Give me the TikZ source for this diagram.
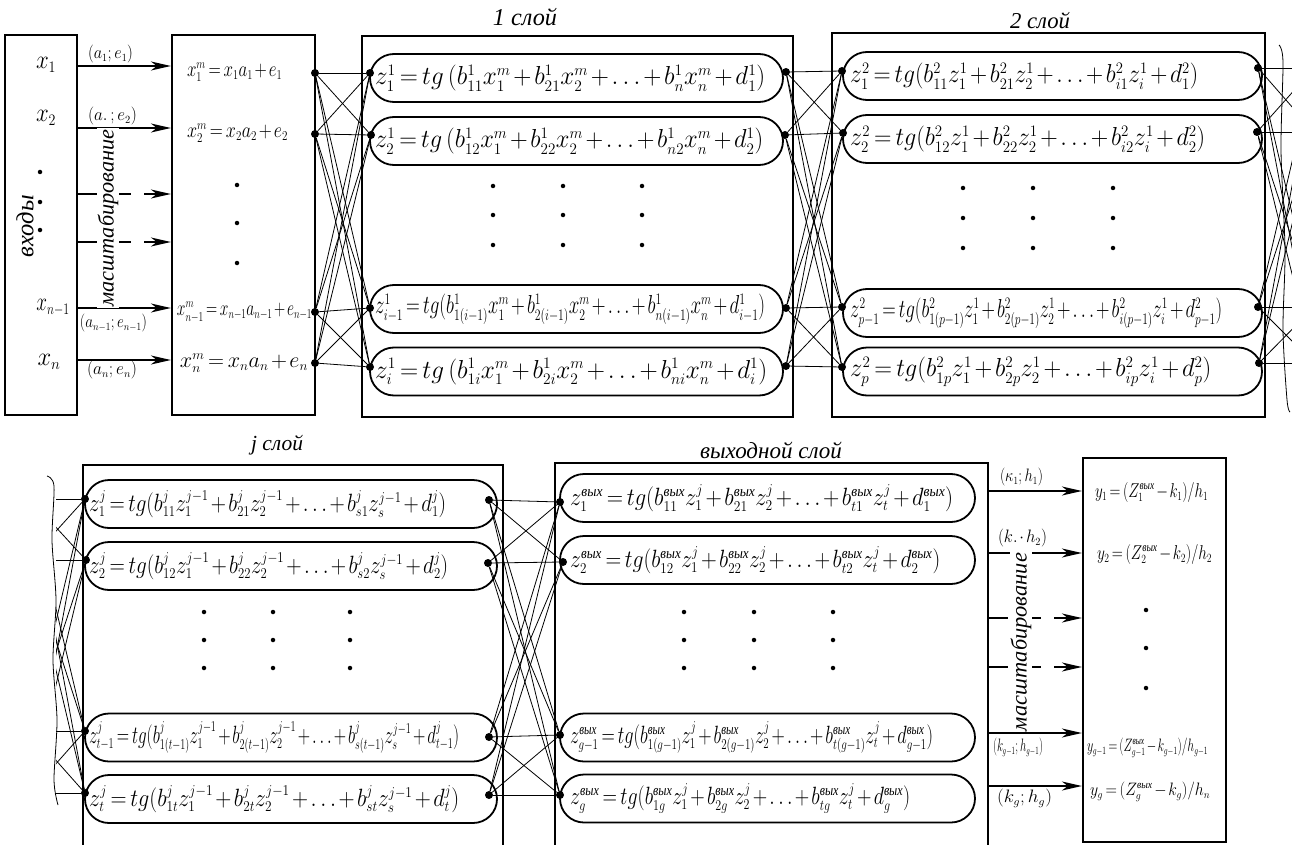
\RequirePackage{fix-cm}
\documentclass[tikz,border=0pt]{standalone}
\usepackage{amsmath}
\usepackage{graphicx}
\usepackage{fontspec}
\setmainfont{Liberation Serif}
\usetikzlibrary{arrows.meta}
\DeclareMathSizes{26}{26}{16}{12}
\DeclareMathSizes{25}{25}{15}{11}
\DeclareMathSizes{24}{24}{15}{11}
\DeclareMathSizes{22}{22}{13.5}{10}
\DeclareMathSizes{20}{20}{12.5}{9}
\DeclareMathSizes{18}{18}{11}{8}
\newcommand{\vyh}{\text{\itshape вых}}
% #1 font size, #2 target width, #3 math
\newcommand{\fp}[3]{\resizebox{#2pt}{\height}{\fontsize{#1}{#1}\selectfont$\medmuskip=2mu\thickmuskip=3mu #3$}}
\newcommand{\ft}[2]{\resizebox{#1pt}{!}{\itshape #2}}
\begin{document}
\begin{tikzpicture}[x=1pt,y=-1pt,
 box/.style={draw,line width=2.2pt},
 pill/.style={draw,line width=1.8pt,rounded corners=24pt,minimum height=48pt,inner sep=0pt},
 dot/.style={circle,fill,inner sep=0pt,minimum size=8pt},
 sdot/.style={circle,fill,inner sep=0pt,minimum size=4.5pt},
 link/.style={line width=0.8pt},
 arr/.style={line width=1.8pt,-{Stealth[length=20pt,width=9pt,inset=6pt]}},
 darr/.style={arr,dash pattern=on 20pt off 13pt},
 lbl/.style={inner sep=0pt},
 vtxt/.style={rotate=90,fill=white,inner sep=1pt},
 ttl/.style={inner sep=0pt}
]
\useasboundingbox (0,0) rectangle (1292,845);

% ---------- boxes ----------
\node[box,minimum width=72pt,minimum height=380pt] (inbox) at (41,225) {};
\node[box,minimum width=143pt,minimum height=380pt] (scbox) at (243.5,225) {};
\node[box,minimum width=431pt,minimum height=381pt] (l1box) at (577.5,226.5) {};
\node[box,minimum width=433pt,minimum height=384pt] (l2box) at (1048.5,225) {};
\node[box,minimum width=143pt,minimum height=384pt] (ybox) at (1154.5,650) {};
\draw[box] (83,850) -- (83,465) -- (503,465) -- (503,850);
\draw[box] (555,850) -- (555,463) -- (988,463) -- (988,850);
\coordinate (obR) at (988,0);

% ---------- titles ----------
\node[ttl] (t1) at (525,17) {\ft{64}{1 слой}};
\node[ttl] (t2) at (1040,21) {\ft{60}{2 слой}};
\node[ttl] (tj) at (277,445) {\ft{52}{j слой}};
\node[ttl] (to) at (771,450) {\ft{142}{выходной слой}};

% ---------- inputs ----------
\node[lbl] (x1) at (46,65) {\fp{26}{20}{x_1}};
\node[lbl] (x2) at (46,118) {\fp{26}{20}{x_2}};
\node[lbl] (xn1) at (53,308) {\fp{26}{33}{x_{n-1}}};
\node[lbl] (xn) at (49,362) {\fp{26}{23}{x_n}};
\node[sdot] (id1) at (40,172) {};
\node[sdot] (id2) at (40,202) {};
\node[sdot] (id3) at (40,230) {};
\node[rotate=90,lbl] (vx) at (25,226) {\ft{62}{входы}};

% ---------- input arrows ----------
\foreach \yy/\st in {66/arr,128/arr,194/darr,242/darr,308/arr,360/arr}{
  \coordinate (tmp) at (0,\yy);
  \draw[\st] (inbox.east |- tmp) -- (scbox.west |- tmp);
}
\node[lbl] (la1) at (110.5,54) {\fp{18}{45}{(a_1;e_1)}};
\node[lbl] (la2) at (112.5,116) {\fp{18}{49}{(a.\,;e_2)}};
\node[lbl] (la3) at (113.5,323) {\fp{18}{67}{(a_{n-1};e_{n-1})}};
\node[lbl] (la4) at (112,370) {\fp{18}{50}{(a_n;e_n)}};
\node[vtxt] (msc1) at (108,218) {\ft{177}{масштабирование}};

% ---------- scaling box ----------
\node[lbl] (s1t) at (234.5,72) {\fp{22}{95}{x_1^m = x_1 a_1 + e_1}};
\node[lbl] (s2t) at (237.5,133) {\fp{22}{101}{x_2^m = x_2 a_2 + e_2}};
\node[lbl] (s3t) at (244.5,312) {\fp{22}{135}{x_{n-1}^m = x_{n-1}a_{n-1} + e_{n-1}}};
\node[lbl] (s4t) at (244,363) {\fp{22}{128}{x_n^m = x_n a_n + e_n}};
\node[sdot] (sd1) at (237,185) {};
\node[sdot] (sd2) at (237,223) {};
\node[sdot] (sd3) at (237,263) {};

% ---------- layer 1 ----------
\node[pill,minimum width=413pt] (p11) at (576.5,78) {};
\node[pill,minimum width=413pt] (p12) at (576.5,141) {};
\node[pill,minimum width=413pt] (p13) at (576.5,309) {};
\node[pill,minimum width=413pt] (p14) at (576.5,371.5) {};
\node[lbl,anchor=west] (t11) at (375,78) {\fp{26}{390}{z_1^1 = tg\,(b_{11}^1 x_1^m + b_{21}^1 x_2^m + \ldots + b_n^1 x_n^m + d_1^1)}};
\node[lbl,anchor=west] (t12) at (375,141) {\fp{26}{388}{z_2^1 = tg\,(b_{12}^1 x_1^m + b_{22}^1 x_2^m + \ldots + b_{n2}^1 x_n^m + d_2^1)}};
\node[lbl,anchor=west] (t13) at (375,309) {\fp{26}{390}{z_{i-1}^1 = tg(b_{1(i-1)}^1 x_1^m + b_{2(i-1)}^1 x_2^m + \ldots + b_{n(i-1)}^1 x_n^m + d_{i-1}^1)}};
\node[lbl,anchor=west] (t14) at (375,371.5) {\fp{26}{392}{z_i^1 = tg\,(b_{1i}^1 x_1^m + b_{2i}^1 x_2^m + \ldots + b_{ni}^1 x_n^m + d_i^1)}};
\foreach \xx in {493,563,642}{\foreach \yy in {186,215,245}{\node[sdot] at (\xx,\yy) {};}}

% ---------- layer 2 ----------
\node[pill,minimum width=419pt] (p21) at (1052.5,76) {};
\node[pill,minimum width=419pt] (p22) at (1052.5,139) {};
\node[pill,minimum width=419pt] (p23) at (1052.5,313) {};
\node[pill,minimum width=419pt] (p24) at (1052.5,371.5) {};
\node[lbl,anchor=west] (t21) at (850,76) {\fp{26}{348}{z_1^2 = tg(b_{11}^2 z_1^1 + b_{21}^2 z_2^1 + \ldots + b_{i1}^2 z_i^1 + d_1^2)}};
\node[lbl,anchor=west] (t22) at (850,139) {\fp{26}{355}{z_2^2 = tg(b_{12}^2 z_1^1 + b_{22}^2 z_2^1 + \ldots + b_{i2}^2 z_i^1 + d_2^2)}};
\node[lbl,anchor=west] (t23) at (850,313) {\fp{26}{372}{z_{p-1}^2 = tg(b_{1(p-1)}^2 z_1^1 + b_{2(p-1)}^2 z_2^1 + \ldots + b_{i(p-1)}^2 z_i^1 + d_{p-1}^2)}};
\node[lbl,anchor=west] (t24) at (850,371.5) {\fp{26}{361}{z_p^2 = tg(b_{1p}^2 z_1^1 + b_{2p}^2 z_2^1 + \ldots + b_{ip}^2 z_i^1 + d_p^2)}};
\foreach \xx in {963,1033,1113}{\foreach \yy in {188,218,248}{\node[sdot] at (\xx,\yy) {};}}

% ---------- layer j ----------
\node[pill,minimum width=412pt] (pj1) at (291,504) {};
\node[pill,minimum width=412pt] (pj2) at (291,566) {};
\node[pill,minimum width=412pt] (pj3) at (291,737.5) {};
\node[pill,minimum width=412pt] (pj4) at (291,799) {};
\node[lbl,anchor=west] (tj1) at (89,504) {\fp{25}{357}{z_1^j = tg(b_{11}^j z_1^{j-1} + b_{21}^j z_2^{j-1} + \ldots + b_{s1}^j z_s^{j-1} + d_1^j)}};
\node[lbl,anchor=west] (tj2) at (89,566) {\fp{25}{359}{z_2^j = tg(b_{12}^j z_1^{j-1} + b_{22}^j z_2^{j-1} + \ldots + b_{s2}^j z_s^{j-1} + d_2^j)}};
\node[lbl,anchor=west] (tj3) at (89,737.5) {\fp{25}{370}{z_{t-1}^j = tg(b_{1(t-1)}^j z_1^{j-1} + b_{2(t-1)}^j z_2^{j-1} + \ldots + b_{s(t-1)}^j z_s^{j-1} + d_{t-1}^j)}};
\node[lbl,anchor=west] (tj4) at (89,799) {\fp{25}{370}{z_t^j = tg(b_{1t}^j z_1^{j-1} + b_{2t}^j z_2^{j-1} + \ldots + b_{st}^j z_s^{j-1} + d_t^j)}};
\foreach \xx in {204,273,350}{\foreach \yy in {612,640,668}{\node[sdot] at (\xx,\yy) {};}}

% ---------- output layer ----------
\node[pill,minimum width=415pt] (po1) at (767.5,498) {};
\node[pill,minimum width=415pt] (po2) at (767.5,560) {};
\node[pill,minimum width=415pt] (po3) at (767.5,737.5) {};
\node[pill,minimum width=415pt] (po4) at (767.5,798.5) {};
\node[lbl,anchor=west] (to1) at (570,498) {\fp{25}{383}{z_1^{\vyh} = tg(b_{11}^{\vyh} z_1^j + b_{21}^{\vyh} z_2^j + \ldots + b_{t1}^{\vyh} z_t^j + d_1^{\vyh})}};
\node[lbl,anchor=west] (to2) at (570,560) {\fp{25}{370}{z_2^{\vyh} = tg(b_{12}^{\vyh} z_1^j + b_{22}^{\vyh} z_2^j + \ldots + b_{t2}^{\vyh} z_t^j + d_2^{\vyh})}};
\node[lbl,anchor=west] (to3) at (570,737.5) {\fp{25}{363}{z_{g-1}^{\vyh} = tg(b_{1(g-1)}^{\vyh} z_1^j + b_{2(g-1)}^{\vyh} z_2^j + \ldots + b_{t(g-1)}^{\vyh} z_t^j + d_{g-1}^{\vyh})}};
\node[lbl,anchor=west] (to4) at (570,798.5) {\fp{25}{340}{z_g^{\vyh} = tg(b_{1g}^{\vyh} z_1^j + b_{2g}^{\vyh} z_2^j + \ldots + b_{tg}^{\vyh} z_t^j + d_g^{\vyh})}};
\foreach \xx in {684,754,833}{\foreach \yy in {612,640,668}{\node[sdot] at (\xx,\yy) {};}}

% ---------- output arrows ----------
\foreach \yy/\st in {491/arr,553/arr,618/darr,667/darr,733/arr,786/arr}{
  \coordinate (tmp) at (0,\yy);
  \draw[\st] (obR |- tmp) -- (ybox.west |- tmp);
}
\node[lbl] (ok1) at (1021.5,477) {\fp{18}{43}{(\kappa_1;h_1)}};
\node[lbl] (ok2) at (1022.5,538) {\fp{18}{49}{(k.\cdot h_2)}};
\node[lbl] (ok3) at (1018,747) {\fp{18}{50}{(k_{g-1};h_{g-1})}};
\node[lbl] (ok4) at (1024.5,798) {\fp{18}{55}{(k_g;h_g)}};
\node[vtxt] (msc2) at (1021,642) {\ft{178}{масштабирование}};

% ---------- y box ----------
\node[lbl] (y1t) at (1151.5,492) {\fp{20}{113}{y_1 = (Z_1^{\vyh} - k_1)/h_1}};
\node[lbl] (y2t) at (1154.5,554) {\fp{20}{115}{y_2 = (Z_2^{\vyh} - k_2)/h_2}};
\node[lbl] (y3t) at (1147.5,748) {\fp{18}{121}{y_{g-1} = (Z_{g-1}^{\vyh} - k_{g-1})/h_{g-1}}};
\node[lbl] (y4t) at (1150,792) {\fp{18}{120}{y_g = (Z_g^{\vyh} - k_g)/h_n}};
\node[sdot] (yd1) at (1146,610) {};
\node[sdot] (yd2) at (1146,648) {};
\node[sdot] (yd3) at (1146,688) {};

% ---------- connection dots ----------
\node[dot] (so1) at (315,73) {};
\node[dot] (so2) at (315,134) {};
\node[dot] (so3) at (315,312) {};
\node[dot] (so4) at (315,363) {};
\node[dot] (li1) at (370,73) {};
\node[dot] (li2) at (371,135) {};
\node[dot] (li3) at (370,308) {};
\node[dot] (li4) at (370,367) {};
\node[dot] (lo1) at (786,72) {};
\node[dot] (lo2) at (785,135) {};
\node[dot] (lo3) at (786,308) {};
\node[dot] (lo4) at (786,366) {};
\node[dot] (mi1) at (842,71) {};
\node[dot] (mi2) at (843,133) {};
\node[dot] (mi3) at (842,307) {};
\node[dot] (mi4) at (842,367) {};
\node[dot] (mo1) at (1258,68) {};
\node[dot] (mo2) at (1257,132) {};
\node[dot] (mo3) at (1258,307) {};
\node[dot] (mo4) at (1259,363) {};
\node[dot] (ji1) at (85,499) {};
\node[dot] (ji2) at (86,560) {};
\node[dot] (ji3) at (85,731) {};
\node[dot] (ji4) at (85,793) {};
\node[dot] (jo1) at (489,500) {};
\node[dot] (jo2) at (488,563) {};
\node[dot] (jo3) at (489,737) {};
\node[dot] (jo4) at (489,795) {};
\node[dot] (oi1) at (560,502) {};
\node[dot] (oi2) at (563,562) {};
\node[dot] (oi3) at (560,735) {};
\node[dot] (oi4) at (560,795) {};

% ---------- full connections ----------
\foreach \i in {1,...,4}{\foreach \j in {1,...,4}{
  \draw[link] (so\i) -- (li\j);
  \draw[link] (lo\i) -- (mi\j);
  \draw[link] (jo\i) -- (oi\j);
}}

% ---------- broken continuations ----------
\coordinate (nx1) at (1314,68);
\coordinate (nx2) at (1314,132);
\coordinate (nx3) at (1314,307);
\coordinate (nx4) at (1314,363);
\coordinate (pv1) at (30,499);
\coordinate (pv2) at (30,560);
\coordinate (pv3) at (30,731);
\coordinate (pv4) at (30,793);
\begin{scope}
\clip (1258,0) rectangle (1292,430);
\foreach \i in {1,...,4}{\foreach \j in {1,...,4}{\draw[link] (mo\i) -- (nx\j);}}
\end{scope}
\begin{scope}
\clip (56,470) rectangle (90,845);
\foreach \i in {1,...,4}{\foreach \j in {1,...,4}{\draw[link] (pv\j) -- (ji\i);}}
\end{scope}
\draw[link] plot[smooth] coordinates {(1279,45) (1283,62) (1281,150) (1285,250) (1283,330) (1287,400) (1290,412)};
\draw[link] plot[smooth] coordinates {(47,476) (54,486) (52,540) (56,600) (53,660) (57,720) (54,780) (58,805)};
\end{tikzpicture}
\end{document}
